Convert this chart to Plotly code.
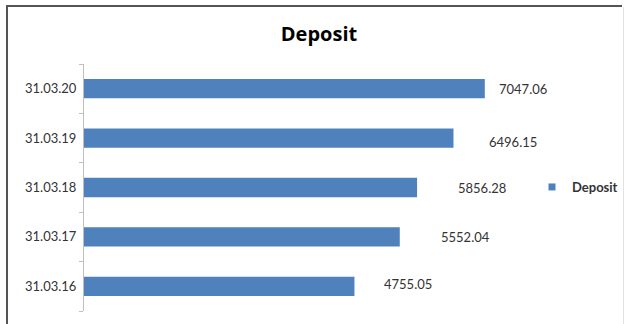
import plotly.graph_objects as go

# Deposit balances by date (bottom to top)
dates = ["31.03.16", "31.03.17", "31.03.18", "31.03.19", "31.03.20"]
deposits = [4755.05, 5552.04, 5856.28, 6496.15, 7047.06]
label_xshift = [28, 39, 39, 34, 12]
label_yshift = [2, 0, 0, -4, 0]

BAR_BLUE = "#4F81BD"
W, H = 626, 324
L, R, T, B = 84, 87, 64, 13
PW, PH = W - L - R, H - T - B


def px_x(px):
    return (px - L) / PW


def px_y(py):
    return 1 - (py - T) / PH


fig = go.Figure()
fig.add_trace(go.Bar(
    y=dates, x=deposits, orientation="h",
    marker=dict(color=BAR_BLUE, line=dict(width=0)),
    width=0.39, showlegend=False, hoverinfo="x+y",
))
# legend entry with a small square key
fig.add_trace(go.Scatter(
    x=[None], y=[None], mode="markers", name="Deposit",
    marker=dict(symbol="square", size=7, color=BAR_BLUE),
    showlegend=True,
))

for d, v, dx, dy in zip(dates, deposits, label_xshift, label_yshift):
    fig.add_annotation(
        x=v, y=d, text=f"{v:.2f}", showarrow=False,
        xanchor="left", yanchor="middle", xshift=dx, yshift=dy,
        font=dict(family="Lato", size=13, color="#333333"),
    )

# outer chart frame
fig.add_shape(type="line", xref="paper", yref="paper",
              x0=px_x(7), x1=px_x(7), y0=px_y(6), y1=px_y(340),
              line=dict(color="#555555", width=2))
fig.add_shape(type="line", xref="paper", yref="paper",
              x0=px_x(6), x1=px_x(622), y0=px_y(6), y1=px_y(6),
              line=dict(color="#555555", width=2))
fig.add_shape(type="line", xref="paper", yref="paper",
              x0=px_x(623.5), x1=px_x(623.5), y0=px_y(7), y1=px_y(340),
              line=dict(color="#e2e2e2", width=1))

fig.update_layout(
    width=W, height=H,
    margin=dict(l=L, r=R, t=T, b=B, autoexpand=False),
    paper_bgcolor="white", plot_bgcolor="white",
    title=dict(
        text="Deposit", xref="container", yref="container",
        x=319 / W, y=1 - 34 / H, xanchor="center", yanchor="middle",
        font=dict(family="Open Sans", size=20, color="#000000", weight="bold"),
    ),
    xaxis=dict(range=[0, 8000], visible=False, showgrid=False, zeroline=False),
    yaxis=dict(
        type="category", categoryorder="array", categoryarray=dates,
        showline=True, linecolor="#bfbfbf", linewidth=1,
        ticks="outside", tickson="boundaries", ticklen=4, tickcolor="#bfbfbf",
        ticklabelstandoff=4,
        showgrid=False, zeroline=False,
        tickfont=dict(family="Lato", size=13, color="#333333"),
    ),
    legend=dict(
        xref="container", yref="container",
        x=532 / W, y=1 - 187 / H, xanchor="left", yanchor="middle",
        bgcolor="rgba(0,0,0,0)", borderwidth=0,
        font=dict(family="Lato", size=13, color="#333333", weight="bold"),
        itemwidth=30,
    ),
    showlegend=True,
)

fig.write_html("out.html")
